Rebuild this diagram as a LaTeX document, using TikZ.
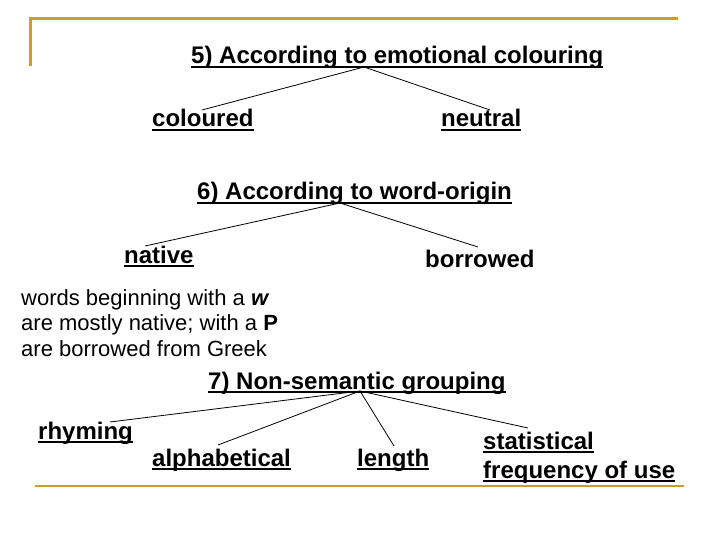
\documentclass[tikz,border=0pt]{standalone}
\usepackage{fontspec}
\setmainfont{Liberation Sans}
\definecolor{gold}{RGB}{201,160,36}
\newcommand\ulx[1]{\setbox0\hbox{#1}\rlap{\rule[-3.6pt]{\wd0}{1.7pt}}\box0}
\begin{document}
\begin{tikzpicture}[x=1pt,y=-1pt,
  txt/.style={inner sep=0pt,anchor=base west,font=\fontsize{24}{28}\selectfont\bfseries},
  note/.style={inner sep=0pt,anchor=base west,font=\fontsize{22}{25.5}\selectfont,align=left},
  conn/.style={line width=0.8pt,black},
  goldline/.style={gold,line width=3pt}]
\useasboundingbox[fill=white] (0,0) rectangle (720,540);
% frame lines
\draw[goldline] (30.5,66) -- (30.5,18.5) -- (678,18.5);
\draw[goldline,line width=2.6pt] (35,486) -- (684,486);
% section 5
\node[txt] (t5) at (191,64) {\ulx{5) According to emotional colouring}};
\node[txt] (c5a) at (152,127) {\ulx{coloured}};
\node[txt] (c5b) at (441,127) {\ulx{neutral}};
\coordinate (a5) at (364,67);
\coordinate (e5a) at (202,110);
\coordinate (e5b) at (490,110);
\draw[conn] (e5a) -- (a5) -- (e5b);
% section 6
\node[txt] (t6) at (197,200) {\ulx{6) According to word-origin}};
\node[txt] (c6a) at (124,263) {\ulx{native}};
\node[txt] (c6b) at (425,267) {borrowed};
\coordinate (a6) at (340,203);
\coordinate (e6a) at (145,246);
\coordinate (e6b) at (478,247);
\draw[conn] (e6a) -- (a6) -- (e6b);
\node[note] (n6) at (21,356) {words beginning with a \textbf{\textit{w}}\\are mostly native; with a \textbf{P}\\are borrowed from Greek};
% section 7
\node[txt] (t7) at (208,389) {\ulx{7) Non-semantic grouping}};
\node[txt] (c7a) at (38,439) {\ulx{rhyming}};
\node[txt] (c7b) at (152,466) {\ulx{alphabetical}};
\node[txt] (c7c) at (357,466) {\ulx{length}};
\node[txt] (c7d) at (483,449) {\ulx{statistical}};
\node[txt] (c7e) at (483,478) {\ulx{frequency of use}};
\coordinate (a7) at (360,391);
\coordinate (e7a) at (110,422);
\coordinate (e7b) at (218,445);
\coordinate (e7c) at (394,446);
\coordinate (e7d) at (528,428);
\draw[conn] (e7a) -- (a7) -- (e7d);
\draw[conn] (e7b) -- (a7) -- (e7c);
\end{tikzpicture}
\end{document}
